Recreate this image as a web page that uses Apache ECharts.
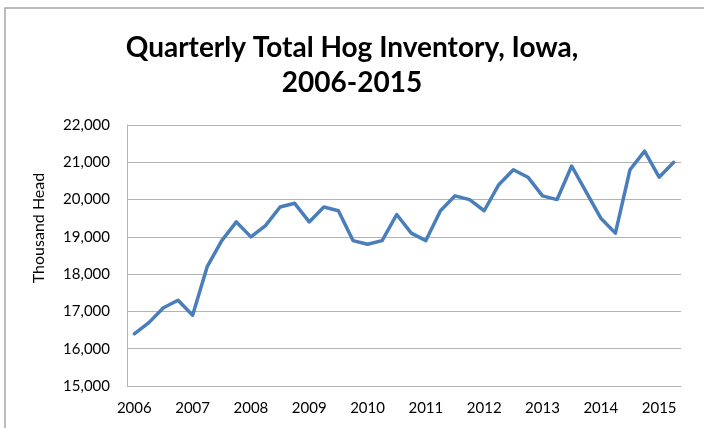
<!DOCTYPE html>
<html>
<head>
<meta charset="utf-8">
<script src="https://cdn.jsdelivr.net/npm/echarts@6/dist/echarts.min.js"></script>
<style>
html,body{margin:0;padding:0;background:#fff;}
#chart{width:704px;height:428px;}
</style>
</head>
<body>
<div id="chart"></div>
<script>
const years = ['2006','2007','2008','2009','2010','2011','2012','2013','2014','2015'];
const quarterNames = ['Q1','Q2','Q3','Q4'];
const inventory = [
  16400, 16700, 17100, 17300,
  16900, 18200, 18900, 19400,
  19000, 19300, 19800, 19900,
  19400, 19800, 19700, 18900,
  18800, 18900, 19600, 19100,
  18900, 19700, 20100, 20000,
  19700, 20400, 20800, 20600,
  20100, 20000, 20900, 20200,
  19500, 19100, 20800, 21300,
  20600, 21000
];
const yTicks = { min: 15000, max: 22000, interval: 1000 };
const titleText = 'Quarterly Total Hog Inventory, Iowa,\n2006-2015';
const yAxisTitle = 'Thousand Head';

const categories = [];
years.forEach(y => quarterNames.forEach(q => categories.push(y + ' ' + q)));
categories.length = inventory.length;

const font = 'Lato, "Open Sans", sans-serif';
const chart = echarts.init(document.getElementById('chart'));
chart.setOption({
  animation: false,
  backgroundColor: '#fff',
  title: {
    text: titleText,
    left: 'center',
    top: 30,
    padding: 0,
    textStyle: { fontFamily: font, fontWeight: 'bold', fontSize: 28, lineHeight: 35, color: '#000' }
  },
  graphic: [
    { type: 'rect', shape: { x: 5, y: 8, width: 740, height: 460 }, style: { fill: 'none', stroke: '#a6a6a6', lineWidth: 1.5 }, silent: true },
    { type: 'text', x: 39, y: 228, rotation: Math.PI / 2,
      style: { text: yAxisTitle, fontFamily: font, fontSize: 16, fill: '#000', align: 'center', verticalAlign: 'middle' } }
  ],
  grid: { left: 127, right: 23, top: 125, bottom: 42, containLabel: false },
  xAxis: {
    type: 'category',
    data: categories,
    boundaryGap: true,
    axisLine: { lineStyle: { color: '#b3b3b3', width: 1 } },
    axisTick: { show: false },
    axisLabel: {
      interval: 3,
      margin: 15,
      fontFamily: font, fontSize: 15, color: '#000',
      formatter: v => v.slice(0, 4)
    },
    splitLine: { show: false }
  },
  yAxis: {
    type: 'value',
    min: yTicks.min, max: yTicks.max, interval: yTicks.interval,
    axisLine: { show: true, lineStyle: { color: '#b3b3b3', width: 1 } },
    axisTick: { show: false },
    axisLabel: {
      margin: 17,
      fontFamily: font, fontSize: 15, color: '#000',
      formatter: v => v.toLocaleString('en-US')
    },
    splitLine: { lineStyle: { color: '#b3b3b3', width: 1 } }
  },
  series: [{
    type: 'line',
    data: inventory,
    symbol: 'none',
    lineStyle: { color: '#4a7ebb', width: 3.5, join: 'round', cap: 'round' }
  }]
});
</script>
</body>
</html>
